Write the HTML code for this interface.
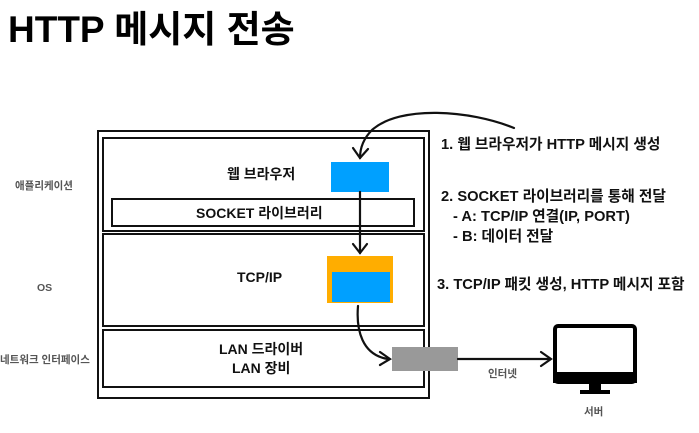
<!DOCTYPE html>
<html><head><meta charset="utf-8"><style>
body{margin:0;width:699px;height:433px;background:#fff;position:relative;overflow:hidden;font-family:"Liberation Sans","Noto Sans CJK KR",sans-serif}
.a{position:absolute;white-space:nowrap}
.b{position:absolute;border:2px solid #111;box-sizing:border-box}
.g{color:#555;font-size:10.5px;font-weight:bold}
.t{font-size:14px;font-weight:bold;color:#111}
.r{font-size:14.7px;font-weight:bold;color:#111}
</style></head><body>
<div class="a" style="left:8px;top:-1px;font-size:37px;font-weight:bold;color:#000">HTTP 메시지 전송</div>
<div class="b" style="left:97px;top:130px;width:333px;height:269px"></div>
<div class="b" style="left:102px;top:137px;width:323px;height:95px"></div>
<div class="b" style="left:111px;top:198px;width:304px;height:29px"></div>
<div class="b" style="left:102px;top:233px;width:323px;height:94px"></div>
<div class="b" style="left:102px;top:329px;width:323px;height:59px"></div>
<div class="a t" style="left:227px;top:164px">웹 브라우저</div>
<div class="a t" style="left:196px;top:203px">SOCKET 라이브러리</div>
<div class="a t" style="left:237px;top:269px">TCP/IP</div>
<div class="a t" style="left:219px;top:339px">LAN 드라이버</div>
<div class="a t" style="left:232px;top:358px">LAN 장비</div>
<div class="a" style="left:331px;top:162px;width:58px;height:30px;background:#00a0ff"></div>
<div class="a" style="left:327px;top:256px;width:66px;height:47px;background:#ffad00"></div>
<div class="a" style="left:332px;top:272px;width:58px;height:30px;background:#00a0ff"></div>
<div class="a" style="left:392px;top:347px;width:66px;height:24px;background:#999"></div>
<div class="a g" style="left:15px;top:178px">애플리케이션</div>
<div class="a g" style="left:37px;top:282px">OS</div>
<div class="a g" style="left:0px;top:352px">네트워크 인터페이스</div>
<div class="a g" style="left:488px;top:366px">인터넷</div>
<div class="a g" style="left:584px;top:404px">서버</div>
<div class="a r" style="left:441px;top:133px">1. 웹 브라우저가 HTTP 메시지 생성</div>
<div class="a r" style="left:441px;top:185px">2. SOCKET 라이브러리를 통해 전달</div>
<div class="a r" style="left:453px;top:205px">- A: TCP/IP 연결(IP, PORT)</div>
<div class="a r" style="left:453px;top:225px">- B: 데이터 전달</div>
<div class="a r" style="left:437px;top:273px">3. TCP/IP 패킷 생성, HTTP 메시지 포함</div>
<svg class="a" style="left:0;top:0" width="699" height="433">
<g fill="none" stroke="#111" stroke-width="2.2" stroke-linecap="round">
<path d="M514 128 C470 110 400 105 372 130 C362 140 360 150 360 158"/>
<path d="M353 148 L360 158 L368 149"/>
<path d="M360 192 L360 253"/>
<path d="M353 244 L360 253 L367 244"/>
<path d="M358 306 C356 330 362 355 388 359"/>
<path d="M380 352 L390 359 L380 365"/>
<path d="M458 359 L550 359"/>
<path d="M541 352 L551 359 L541 366"/>
</g>
<rect x="555" y="326" width="80" height="56" rx="3" fill="none" stroke="#000" stroke-width="4"/>
<rect x="553" y="372" width="84" height="11" fill="#000"/>
<rect x="589" y="383" width="12" height="8" fill="#000"/>
<rect x="580" y="390" width="30" height="4" fill="#000"/>
</svg>
</body></html>
